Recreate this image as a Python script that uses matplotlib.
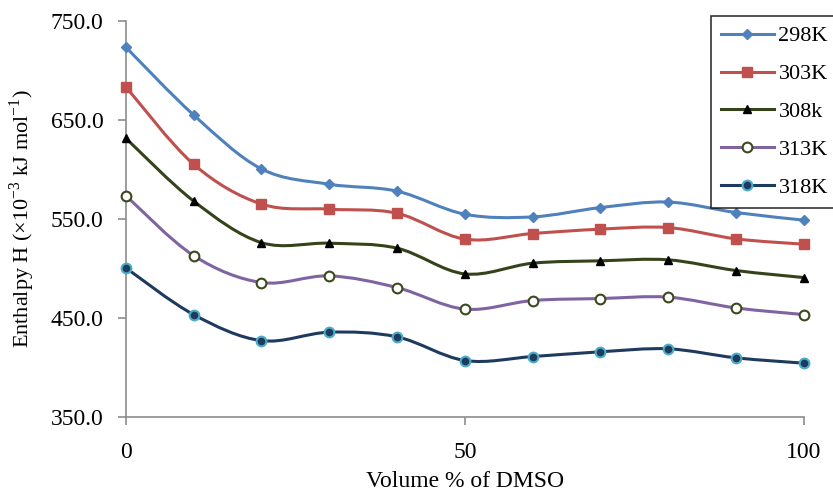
import matplotlib
matplotlib.use("Agg")
import matplotlib.pyplot as plt
import numpy as np
from matplotlib.path import Path
from matplotlib.patches import PathPatch
from matplotlib.lines import Line2D

plt.rcParams['font.family'] = ['Liberation Serif', 'DejaVu Serif']
plt.rcParams['mathtext.fontset'] = 'custom'
plt.rcParams['mathtext.rm'] = 'Liberation Serif'

# ---------------- data ----------------
volume = [0, 10, 20, 30, 40, 50, 60, 70, 80, 90, 100]
h_298 = [723.5, 655.0, 600.5, 585.0, 578.0, 554.7, 552.0, 561.4, 567.0, 556.4, 548.7]
h_303 = [683.5, 605.2, 565.0, 559.8, 555.7, 529.5, 535.2, 539.6, 541.2, 529.8, 524.4]
h_308 = [631.5, 568.0, 526.0, 525.4, 520.4, 494.4, 505.2, 507.6, 508.6, 497.8, 490.7]
h_313 = [573.5, 512.9, 485.7, 492.4, 480.6, 458.8, 467.5, 469.5, 470.9, 460.0, 453.3]
h_318 = [500.5, 453.3, 427.0, 435.5, 430.8, 406.9, 410.9, 415.7, 418.7, 409.6, 404.2]
labels = ['298K', '303K', '308k', '313K', '318K']
y_ticks = [350, 450, 550, 650, 750]
x_ticks = [0, 50, 100]


def smooth_path(x, y):
    # excel-style smoothed line as cubic bezier segments
    pts = np.column_stack([x, y]).astype(float)
    n = len(pts)
    verts = [pts[0]]
    codes = [Path.MOVETO]
    for i in range(n - 1):
        p0 = pts[i - 1] if i > 0 else pts[i]
        p1 = pts[i]
        p2 = pts[i + 1]
        p3 = pts[i + 2] if i + 2 < n else pts[i + 1]
        c1 = p1 + (p2 - p0) / 6.0
        c2 = p2 - (p3 - p1) / 6.0
        verts += [c1, c2, p2]
        codes += [Path.CURVE4] * 3
    return Path(verts, codes)


fig = plt.figure(figsize=(8.33, 4.98), dpi=100)
ax = fig.add_axes([0.151, 0.163, 0.814, 0.795])

styles = [
    dict(color='#4F81BD', marker='D', ms=5, mfc='#4F81BD', mec='#4F81BD', mew=1),
    dict(color='#C0504D', marker='s', ms=7, mfc='#C0504D', mec='#C0504D', mew=1),
    dict(color='#34431A', marker='^', ms=6, mfc='#000000', mec='#000000', mew=1),
    dict(color='#8064A2', marker='o', ms=7, mfc='white', mec='#3B4A1E', mew=1.5),
    dict(color='#1F3A5F', marker='o', ms=7, mfc='#1F3A5F', mec='#4BACC6', mew=1.5),
]
series = [h_298, h_303, h_308, h_313, h_318]

handles = []
for vals, st, lab in zip(series, styles, labels):
    patch = PathPatch(smooth_path(volume, vals), facecolor='none',
                      edgecolor=st['color'], lw=2.2, zorder=2)
    ax.add_patch(patch)
    ax.plot(volume, vals, linestyle='none', marker=st['marker'], ms=st['ms'],
            mfc=st['mfc'], mec=st['mec'], mew=st['mew'], zorder=3, clip_on=False)
    handles.append(Line2D([], [], color=st['color'], lw=2.2, marker=st['marker'],
                          ms=st['ms'], mfc=st['mfc'], mec=st['mec'], mew=st['mew']))

ax.set_xlim(0, 100)
ax.set_ylim(350, 750)
ax.set_xticks(x_ticks)
ax.set_xticklabels([str(v) for v in x_ticks])
ax.set_yticks(y_ticks)
ax.set_yticklabels(['%.1f' % v for v in y_ticks])

for s in ['top', 'right']:
    ax.spines[s].set_visible(False)
for s in ['left', 'bottom']:
    ax.spines[s].set_color('#8C8C8C')
    ax.spines[s].set_linewidth(1.2)
ax.tick_params(axis='both', direction='out', length=6, width=1.2, color='#8C8C8C',
               labelsize=17, pad=10)
ax.tick_params(axis='x', pad=12)

ax.set_xlabel('Volume % of DMSO', fontsize=17, labelpad=6)
ax.set_ylabel(r'Enthalpy H ($\times$10$^{-3}$ kJ mol$^{-1}$)', fontsize=16, labelpad=10)

leg = fig.legend(handles, labels, loc='upper right', bbox_to_anchor=(1.006, 0.968),
                 fontsize=16, frameon=True, fancybox=False, labelspacing=0.78,
                 handlelength=2.4, handletextpad=0.2, borderpad=0.45, borderaxespad=0)
leg.get_frame().set_edgecolor('black')
leg.get_frame().set_linewidth(1.2)

fig.savefig('out.png', dpi=100)
